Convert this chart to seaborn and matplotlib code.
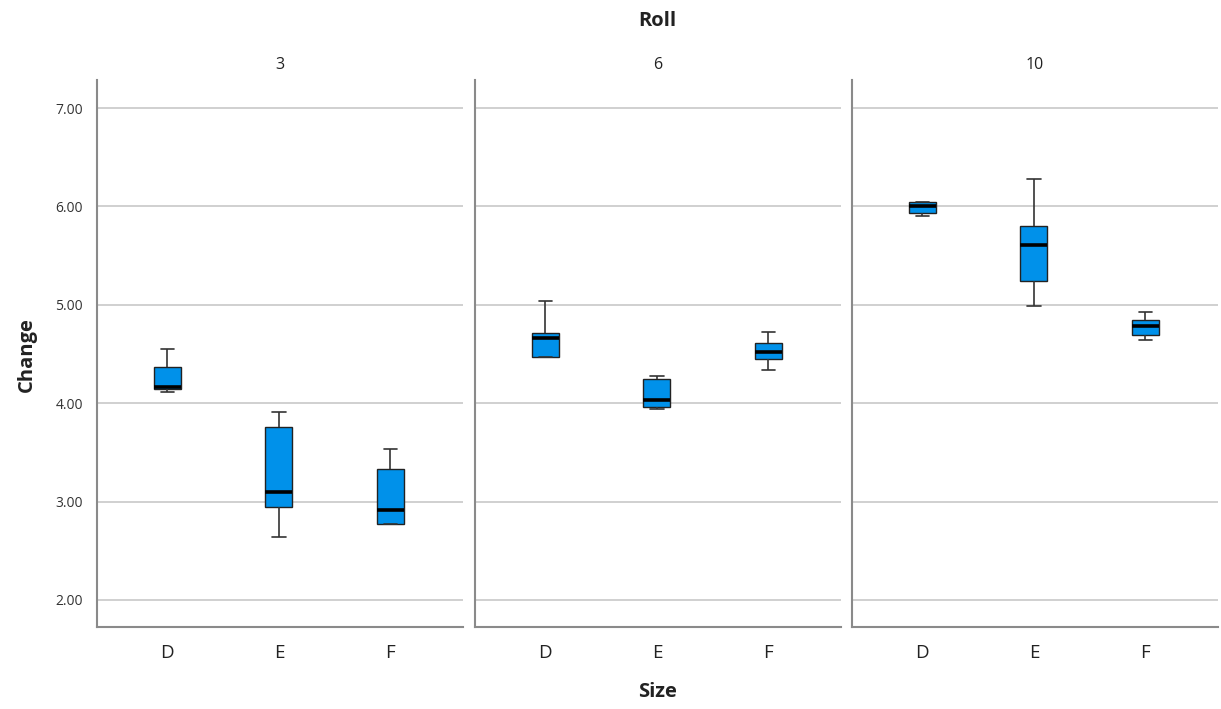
import matplotlib
matplotlib.use("Agg")
import matplotlib.pyplot as plt
import seaborn as sns
import pandas as pd

sns.set_style("white")
plt.rcParams['font.family'] = ['Open Sans', 'DejaVu Sans']

rolls = ["3", "6", "10"]
sizes = ["D", "E", "F"]
y_ticks = [2.0, 3.0, 4.0, 5.0, 6.0, 7.0]
y_tick_labels = ["2.00", "3.00", "4.00", "5.00", "6.00", "7.00"]

# Five observations per group: low whisker, Q1, median, Q3, high whisker
roll3_D = [4.11, 4.14, 4.16, 4.37, 4.55]
roll3_E = [2.64, 2.94, 3.10, 3.76, 3.91]
roll3_F = [2.77, 2.77, 2.91, 3.33, 3.53]
roll6_D = [4.47, 4.47, 4.66, 4.71, 5.04]
roll6_E = [3.94, 3.96, 4.03, 4.25, 4.28]
roll6_F = [4.34, 4.45, 4.52, 4.61, 4.72]
roll10_D = [5.90, 5.93, 6.00, 6.04, 6.05]
roll10_E = [4.99, 5.24, 5.61, 5.80, 6.28]
roll10_F = [4.64, 4.69, 4.78, 4.85, 4.93]

groups = {
    ("3", "D"): roll3_D, ("3", "E"): roll3_E, ("3", "F"): roll3_F,
    ("6", "D"): roll6_D, ("6", "E"): roll6_E, ("6", "F"): roll6_F,
    ("10", "D"): roll10_D, ("10", "E"): roll10_E, ("10", "F"): roll10_F,
}
rows = []
for (r, s), vals in groups.items():
    for v in vals:
        rows.append({"Roll": r, "Size": s, "Change": v})
df = pd.DataFrame(rows)

W, H = 1221, 709
fig = plt.figure(figsize=(W / 100, H / 100), dpi=100)
lefts = [97, 475, 852]
pw = 366
bottom, top = 627, 80

box_color = "#0091EA"
for i, r in enumerate(rolls):
    ax = fig.add_axes([lefts[i] / W, 1 - bottom / H, pw / W, (bottom - top) / H])
    sub = df[df["Roll"] == r]
    sns.boxplot(data=sub, x="Size", y="Change", order=sizes, ax=ax,
                color=box_color, saturation=1, width=0.24, whis=1.5,
                linecolor="#222222", linewidth=1.0,
                medianprops=dict(color="black", linewidth=2.6),
                whiskerprops=dict(color="#333333", linewidth=1.2),
                capprops=dict(color="#333333", linewidth=1.2),
                showfliers=False, zorder=3)
    ax.set_ylim(1.725, 7.285)
    ax.set_xlim(-0.63, 2.65)
    ax.set_yticks(y_ticks)
    ax.yaxis.grid(True, color="#c8c8c8", linewidth=1.2, zorder=0)
    ax.xaxis.grid(False)
    ax.set_axisbelow(True)
    for side in ["top", "right"]:
        ax.spines[side].set_visible(False)
    for side in ["left", "bottom"]:
        ax.spines[side].set_color("#8a8a8a")
        ax.spines[side].set_linewidth(1.5)
    ax.tick_params(axis="both", length=0)
    ax.tick_params(axis="x", labelsize=13.5, colors="#222222", pad=12)
    if i == 0:
        ax.set_yticklabels(y_tick_labels, fontsize=10, color="#333333")
        ax.tick_params(axis="y", pad=10)
    else:
        ax.set_yticklabels([])
    ax.set_xlabel("")
    ax.set_ylabel("")
    ax.set_title(r, fontsize=11.5, color="#222222", pad=8)

fig.text((97 + 1218) / 2 / W, 1 - 21 / H, "Roll", ha="center", va="center",
         fontsize=14.5, fontweight="bold", color="#222222")
fig.text((97 + 1218) / 2 / W, 1 - 692 / H, "Size", ha="center", va="center",
         fontsize=14.5, fontweight="bold", color="#222222")
fig.text(27 / W, 1 - 355 / H, "Change", ha="center", va="center", rotation=90,
         fontsize=14.5, fontweight="bold", color="#222222")

fig.savefig("out.png", dpi=100)
